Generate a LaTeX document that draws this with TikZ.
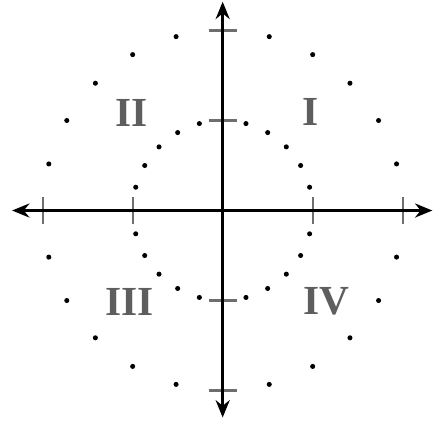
\documentclass[tikz,border=0pt]{standalone}
\usepackage{fontspec}
\setmainfont{Liberation Serif}
\usetikzlibrary{arrows.meta}
\definecolor{labgray}{HTML}{5E5E5E}
\definecolor{tickgray}{HTML}{6E6E6E}
\tikzset{
  axisline/.style={line width=2.6pt, black, {Stealth[length=13pt,width=10.5pt]}-{Stealth[length=13pt,width=10.5pt]}},
  tickline/.style={line width=1.7pt, tickgray},
  dotmark/.style={circle, fill=black, inner sep=0pt, minimum size=3.8pt},
  quadlabel/.style={inner sep=0pt, text=labgray, font=\fontsize{31}{31}\selectfont\bfseries}
}
\begin{document}
\begin{tikzpicture}[x=67.5pt,y=67.5pt]
\useasboundingbox (-2.474,-2.372) rectangle (2.448,2.339);
% ticks
\foreach \t in {-2,-1,1,2}{
  \draw[tickline] (\t,-0.155) -- (\t,0.155);
  \draw[tickline] (-0.155,\t) -- (0.155,\t);
}
% axes
\coordinate (xl) at (-2.34,0);
\coordinate (xr) at (2.33,0);
\coordinate (yt) at (0,2.32);
\coordinate (yb) at (0,-2.3);
\draw[axisline] (xl) -- (xr);
\draw[axisline] (yb) -- (yt);
% dots
\foreach \q in {0,90,180,270}{
  \foreach \a in {15,30,45,60,75}{
    \node[dotmark] (d1-\q-\a) at ({\q+\a}:1) {};
    \node[dotmark] (d2-\q-\a) at ({\q+\a}:2) {};
  }
}
% labels
\node[quadlabel] (qI) at (0.973,1.09) {I};
\node[quadlabel] (qII) at (-1.014,1.087) {II};
\node[quadlabel] (qIII) at (-1.03,-1.013) {III};
\node[quadlabel] (qIV) at (1.15,-1.013) {IV};
\end{tikzpicture}
\end{document}
